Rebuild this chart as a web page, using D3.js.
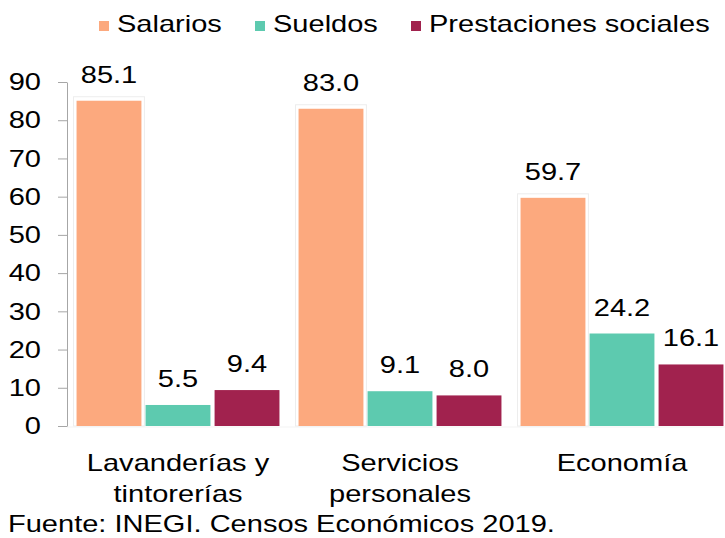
<!DOCTYPE html>
<html>
<head>
<meta charset="utf-8">
<script src="https://cdn.jsdelivr.net/npm/d3@7"></script>
<style>
  body { margin: 0; background: #fff; }
  svg { display: block; font-family: "Liberation Sans", Arial, sans-serif; }
</style>
</head>
<body>
<div id="chart"></div>
<script>
`use strict`;

const categories = [[`Lavanderías y`, `tintorerías`], [`Servicios`, `personales`], [`Economía`]];
const seriesNames = [`Salarios`, `Sueldos`, `Prestaciones sociales`];
const salarios = [85.1, 83.0, 59.7];
const sueldos = [5.5, 9.1, 24.2];
const prestaciones = [9.4, 8.0, 16.1];
const yTicks = [0, 10, 20, 30, 40, 50, 60, 70, 80, 90];
const source = `Fuente: INEGI. Censos Económicos 2019.`;

const colors = [`#fca97e`, `#5dcaaf`, `#a1224e`];
const SX = 1.21;

(function () {

  const W = 725, H = 538;

  const svg = d3.select(`#chart`).append(`svg`)
    .attr(`width`, W)
    .attr(`height`, H);

  const series = [salarios, sueldos, prestaciones];

  const x0 = d3.scaleBand()
    .domain(d3.range(categories.length))
    .range([67, 733])
    .paddingInner(0.086)
    .paddingOuter(0.043);

  const x1 = d3.scaleBand()
    .domain(d3.range(series.length))
    .range([0, x0.bandwidth()])
    .paddingInner(0.06);

  const y = d3.scaleLinear()
    .domain([0, 90])
    .range([426, 82]);

  let txt = (g, str, x, yy, anchor) => {
    return g.append(`text`)
      .attr(`transform`, `translate(${x},${yy}) scale(${SX},1)`)
      .attr(`text-anchor`, anchor || `middle`)
      .attr(`font-size`, 24)
      .attr(`fill`, `#000`)
      .text(str);
  }

  // legend
  const leg = svg.append(`g`);
  const legX = [99, 255, 411];
  seriesNames.forEach((name, i) => {
    leg.append(`rect`)
      .attr(`x`, legX[i])
      .attr(`y`, 21)
      .attr(`width`, 10)
      .attr(`height`, 10)
      .attr(`fill`, colors[i]);
    txt(leg, name, legX[i] + 18, 32, `start`);
  });

  // faint baseline
  svg.append(`line`)
    .attr(`x1`, 67).attr(`x2`, W)
    .attr(`y1`, y(0) + 1).attr(`y2`, y(0) + 1)
    .attr(`stroke`, `#f3f3f3`);

  // bars
  const groups = svg.selectAll(`g.grp`).data(categories)
    .enter()
    .append(`g`)
    .attr(`class`, `grp`)
    .attr(`transform`, (d, i) => `translate(${x0(i)},0)`);

  groups.each(function (d, ci) {
    const g = d3.select(this);
    // faint halo round the first bar
    g.append(`rect`)
      .attr(`x`, x1(0) - 3)
      .attr(`y`, y(salarios[ci]) - 4)
      .attr(`width`, x1.bandwidth() + 6)
      .attr(`height`, y(0) - y(salarios[ci]) + 4)
      .attr(`fill`, `#fff`)
      .attr(`stroke`, `#ededed`);
    series.forEach((vals, si) => {
      g.append(`rect`)
        .attr(`x`, x1(si))
        .attr(`y`, y(vals[ci]))
        .attr(`width`, x1.bandwidth())
        .attr(`height`, y(0) - y(vals[ci]))
        .attr(`fill`, colors[si]);
      txt(g, vals[ci].toFixed(1), x1(si) + x1.bandwidth() / 2, y(vals[ci]) - 18);
    });
  });

  // y axis
  const yAxis = svg.append(`g`)
    .attr(`transform`, `translate(67,0)`)
    .call(d3.axisLeft(y).tickValues(yTicks).tickSize(9).tickSizeOuter(0));

  yAxis.select(`.domain`).attr(`stroke`, `#a6a6a6`);
  yAxis.selectAll(`.tick line`).attr(`stroke`, `#a6a6a6`);
  yAxis.selectAll(`.tick text`)
    .attr(`x`, -26 / SX)
    .attr(`transform`, `scale(${SX},1)`)
    .attr(`font-size`, 24)
    .attr(`font-family`, `"Liberation Sans", Arial, sans-serif`)
    .attr(`fill`, `#000`);

  // category labels
  categories.forEach((lines, i) => {
    const cx = x0(i) + x0.bandwidth() / 2;
    lines.forEach((line, li) => {
      txt(svg, line, cx, 471 + li * 31);
    });
  });

  txt(svg, source, 8, 532, `start`);
})();
</script>
</body>
</html>
